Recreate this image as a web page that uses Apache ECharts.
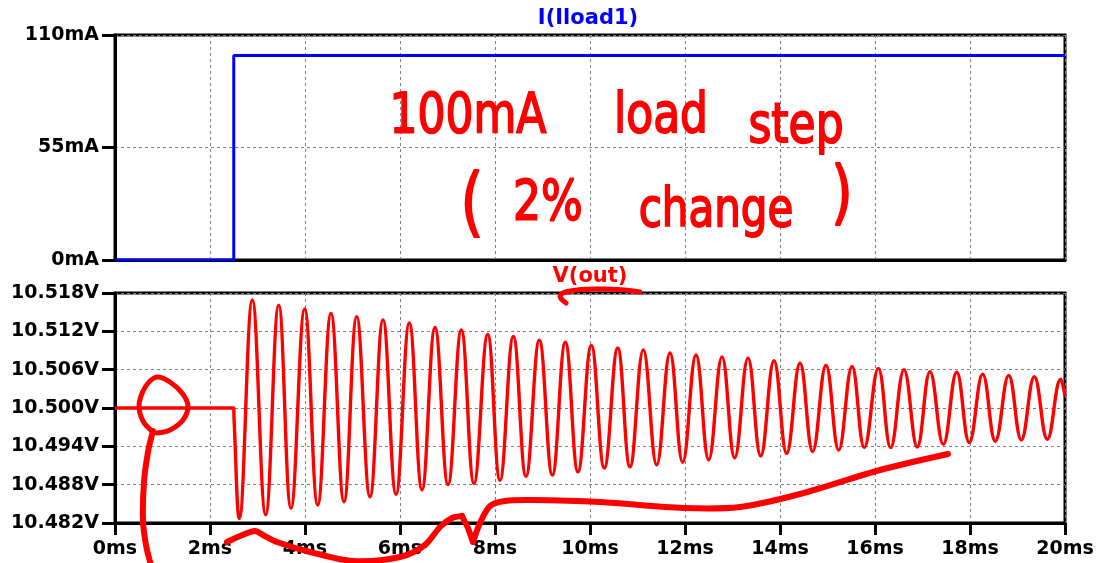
<!DOCTYPE html>
<html>
<head>
<meta charset="utf-8">
<script src="https://cdn.jsdelivr.net/npm/echarts@6/dist/echarts.min.js"></script>
<style>
html,body{margin:0;padding:0;background:#fff;}
#chart{width:1097px;height:563px;}
</style>
</head>
<body>
<div id="chart"></div>
<script>
// ---- data ----
const xTicks = [0, 2, 4, 6, 8, 10, 12, 14, 16, 18, 20]; // ms
const iTimes = [0, 2.5, 2.5, 20];            // ms
const iValues = [0, 0, 100, 100];            // mA
const iTickLabels = ['0mA', '55mA', '110mA'];
const vTickLabels = ['10.482V', '10.488V', '10.494V', '10.500V', '10.506V', '10.512V', '10.518V'];
const vTimes = [0, 2.5, 2.505,
  2.617, 2.891, 3.172, 3.446, 3.705, 3.993, 4.267, 4.547, 4.821, 5.088,
  5.368, 5.642, 5.916, 6.196, 6.463, 6.737, 7.011, 7.291, 7.558, 7.846,
  8.105, 8.386, 8.653, 8.933, 9.207, 9.481, 9.747, 10.028, 10.301, 10.583,
  10.842, 11.122, 11.404, 11.684, 11.951, 12.232, 12.499, 12.779, 13.046, 13.326,
  13.594, 13.874, 14.141, 14.421, 14.688, 14.968, 15.236, 15.516, 15.775, 16.07,
  16.33, 16.61, 16.89, 17.158, 17.438, 17.72, 17.985, 18.267, 18.533, 18.815,
  19.08, 19.354, 19.628, 19.909, 20];
const vValues = [10.500, 10.500, 10.4985,
  10.4827, 10.5169, 10.4833, 10.5161, 10.4843, 10.5155, 10.4848, 10.5148, 10.4853, 10.5143,
  10.4861, 10.5138, 10.4865, 10.5133, 10.4872, 10.5126, 10.4880, 10.5122, 10.4882, 10.5115,
  10.4887, 10.5112, 10.4893, 10.5106, 10.4895, 10.5103, 10.4900, 10.5098, 10.4906, 10.5094,
  10.4908, 10.5091, 10.4911, 10.5086, 10.4915, 10.5083, 10.4919, 10.5080, 10.4922, 10.5078,
  10.4925, 10.5074, 10.4929, 10.5070, 10.4932, 10.5067, 10.4934, 10.5065, 10.4938, 10.5062,
  10.4938, 10.5060, 10.4939, 10.5057, 10.4943, 10.5056, 10.4946, 10.5053, 10.4948, 10.5051,
  10.4950, 10.5049, 10.4951, 10.5045, 10.5018];
const vCenter = 10.5; // plotted as mV offset from this

// ---- chart ----
const chart = echarts.init(document.getElementById('chart'));
const FONT = 'DejaVu Sans';
const labelStyle = {color: '#000', fontFamily: FONT, fontWeight: 'bold', fontSize: 19};
const split = {show: true, lineStyle: {color: '#808080', width: 1, type: [3, 3]}};
const tick = {show: true, length: 13, lineStyle: {color: '#000', width: 3}};
const line = {show: true, onZero: false, lineStyle: {color: '#000', width: 3}};

const iData = iTimes.map((t, k) => [t, iValues[k]]);
const vData = vTimes.map((t, k) => [t, (vValues[k] - vCenter) * 1000]);

const RED = '#ff0000';
const handText = (text, x, y, size) => ({
  type: 'text', x: x, y: y, z: 100, scaleY: 1.25,
  style: {text: text, fill: RED, stroke: RED, lineWidth: 1.5, font: 'normal ' + size + 'px "' + FONT + '"', textAlign: 'center', textVerticalAlign: 'middle'}
});
const handLine = (pts, w, sm) => ({
  type: 'polyline', z: 100,
  shape: {points: pts, smooth: sm},
  style: {stroke: RED, lineWidth: w, fill: null, lineCap: 'round', lineJoin: 'round'}
});

chart.setOption({
  animation: false,
  backgroundColor: '#fff',
  grid: [
    {left: 115, top: 35, right: 32, height: 225, show: true, borderColor: '#000', borderWidth: 3, containLabel: false},
    {left: 115, top: 293, right: 32, height: 230, show: true, borderColor: '#000', borderWidth: 3, containLabel: false}
  ],
  xAxis: [
    {type: 'value', gridIndex: 0, min: xTicks[0], max: xTicks[xTicks.length - 1], interval: 2,
     axisLine: line, axisTick: {show: false}, axisLabel: {show: false}, splitLine: split},
    {type: 'value', gridIndex: 1, min: xTicks[0], max: xTicks[xTicks.length - 1], interval: 2,
     axisLine: line, axisTick: {show: true, length: 12, lineStyle: {color: '#000', width: 3}},
     axisLabel: Object.assign({margin: 17, formatter: v => v + 'ms'}, labelStyle), splitLine: split}
  ],
  yAxis: [
    {type: 'value', gridIndex: 0, min: 0, max: 110, interval: 55,
     axisLine: line, axisTick: tick, splitLine: split,
     axisLabel: Object.assign({margin: 16, formatter: v => iTickLabels[Math.round(v / 55)]}, labelStyle)},
    {type: 'value', gridIndex: 1, min: -18, max: 18, interval: 6,
     axisLine: line, axisTick: tick, splitLine: split,
     axisLabel: Object.assign({margin: 16, formatter: v => vTickLabels[Math.round((v + 18) / 6)]}, labelStyle)}
  ],
  series: [
    {type: 'line', name: 'I(Iload1)', xAxisIndex: 0, yAxisIndex: 0, data: iData, showSymbol: false,
     lineStyle: {color: '#0000ff', width: 3}, z: 5},
    {type: 'line', name: 'V(out)', xAxisIndex: 1, yAxisIndex: 1, data: vData, showSymbol: false,
     smooth: 0.42, lineStyle: {color: RED, width: 3.4}, z: 5}
  ],
  graphic: [
    {type: 'text', x: 588, y: 19, style: {text: 'I(Iload1)', fill: '#0000ff', font: 'bold 21px "' + FONT + '"', textAlign: 'center', textVerticalAlign: 'middle'}},
    {type: 'text', x: 590, y: 277, style: {text: 'V(out)', fill: RED, font: 'bold 21px "' + FONT + '"', textAlign: 'center', textVerticalAlign: 'middle'}},
    handText('100mA', 468, 118, 44),
    handText('load', 661, 118, 44),
    handText('step', 796, 128, 44),
    handText('(', 472, 208, 60),
    handText('2%', 548, 205, 44),
    handText('change', 716, 212, 42),
    handText(')', 842, 198, 56),
    handLine([[566, 303], [560, 296], [570, 291], [600, 289], [625, 290], [640, 292]], 5, 0.4),
    handLine([[152, 431], [143, 421], [139, 406], [143, 391], [150, 381], [158, 377], [170, 382], [182, 393], [188, 406], [183, 420], [170, 430], [157, 433]], 5, 0.4),
    handLine([[153, 431], [148, 452], [144, 482], [143, 520], [146, 545], [151, 565]], 6, 0.4),
    handLine([[227, 542], [240, 536], [255, 531], [263, 535], [277, 542], [310, 552], [353, 561], [400, 557], [425, 545], [440, 527], [452, 518], [462, 516]], 6, 0.3),
    handLine([[462, 516], [468, 528], [473, 542]], 6, 0),
    handLine([[473, 542], [480, 523], [490, 506], [505, 501], [530, 500], [600, 502], [683, 508], [740, 507], [800, 494], [880, 470], [948, 454]], 6, 0.3)
  ]
});
</script>
</body>
</html>
